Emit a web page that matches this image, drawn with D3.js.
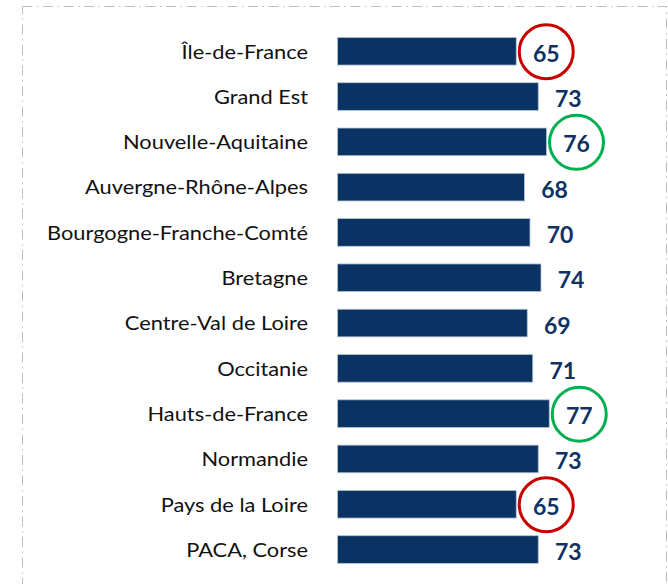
<!DOCTYPE html>
<html>
<head>
<meta charset="utf-8">
<script src="https://cdn.jsdelivr.net/npm/d3@7"></script>
<style>
  html, body { margin: 0; padding: 0; background: #fff; }
  svg { display: block; }
</style>
</head>
<body>
<div id="chart"></div>
<script>
// Regions and their scores
const regions = [
  "Île-de-France", "Grand Est", "Nouvelle-Aquitaine", "Auvergne-Rhône-Alpes",
  "Bourgogne-Franche-Comté", "Bretagne", "Centre-Val de Loire", "Occitanie",
  "Hauts-de-France", "Normandie", "Pays de la Loire", "PACA, Corse"
];
const scores = [65, 73, 76, 68, 70, 74, 69, 71, 77, 73, 65, 73];
// lowest scores circled red, highest circled green
const flags = ["low", "", "high", "", "", "", "", "", "high", "", "low", ""];

const W = 668, H = 584;
const BAR_COLOR = "#0a3262";
const TEXT_COLOR = "#0d3263";
const ringColor = { low: "#c80000", high: "#00b050" };

const svg = d3.select("#chart").append("svg")
  .attr("width", W).attr("height", H);

// dash-dot frame
svg.append("rect")
  .attr("x", 22.5).attr("y", 6.5)
  .attr("width", 644).attr("height", 600)
  .attr("fill", "none")
  .attr("stroke", "#bdbdbd")
  .attr("stroke-width", 1)
  .attr("stroke-dasharray", "10,4.5,1.5,4.5");

const x = d3.scaleLinear().domain([0, 100]).range([337.5, 612.5]);
const y = d3.scaleBand().domain(regions).range([28.6, 572.2])
  .paddingInner(0.39).paddingOuter(0.195);

const rows = regions.map((r, i) => ({ region: r, value: scores[i], flag: flags[i] }));
const midY = d => y(d.region) + y.bandwidth() / 2;

// category labels (stretched a little to match the wider source face)
svg.append("g")
  .selectAll("text")
  .data(rows)
  .join("text")
  .attr("transform", d => `translate(308,${midY(d)}) scale(1.18,1)`)
  .attr("text-anchor", "end")
  .attr("dominant-baseline", "central")
  .attr("font-family", "Lato, 'Open Sans', sans-serif")
  .attr("font-size", 18.5)
  .attr("fill", "#111")
  .text(d => d.region);

// bars
svg.append("g")
  .selectAll("rect")
  .data(rows)
  .join("rect")
  .attr("x", x(0))
  .attr("y", d => y(d.region))
  .attr("width", d => x(d.value) - x(0))
  .attr("height", y.bandwidth())
  .attr("fill", BAR_COLOR)
  .attr("stroke", "#b4c2d4")
  .attr("stroke-width", 0.8);

const labelX = d => x(d.value) + 30;

// value labels
svg.append("g")
  .selectAll("text")
  .data(rows)
  .join("text")
  .attr("x", labelX)
  .attr("y", d => midY(d) + 1.5)
  .attr("text-anchor", "middle")
  .attr("dominant-baseline", "central")
  .attr("font-family", "Lato, 'Open Sans', sans-serif")
  .attr("font-weight", "bold")
  .attr("font-size", 23)
  .attr("fill", TEXT_COLOR)
  .text(d => d.value);

// highlight rings
svg.append("g")
  .selectAll("circle")
  .data(rows.filter(d => d.flag))
  .join("circle")
  .attr("cx", labelX)
  .attr("cy", d => midY(d) + 0.5)
  .attr("r", 27)
  .attr("fill", "none")
  .attr("stroke", d => ringColor[d.flag])
  .attr("stroke-width", 3);
</script>
</body>
</html>
